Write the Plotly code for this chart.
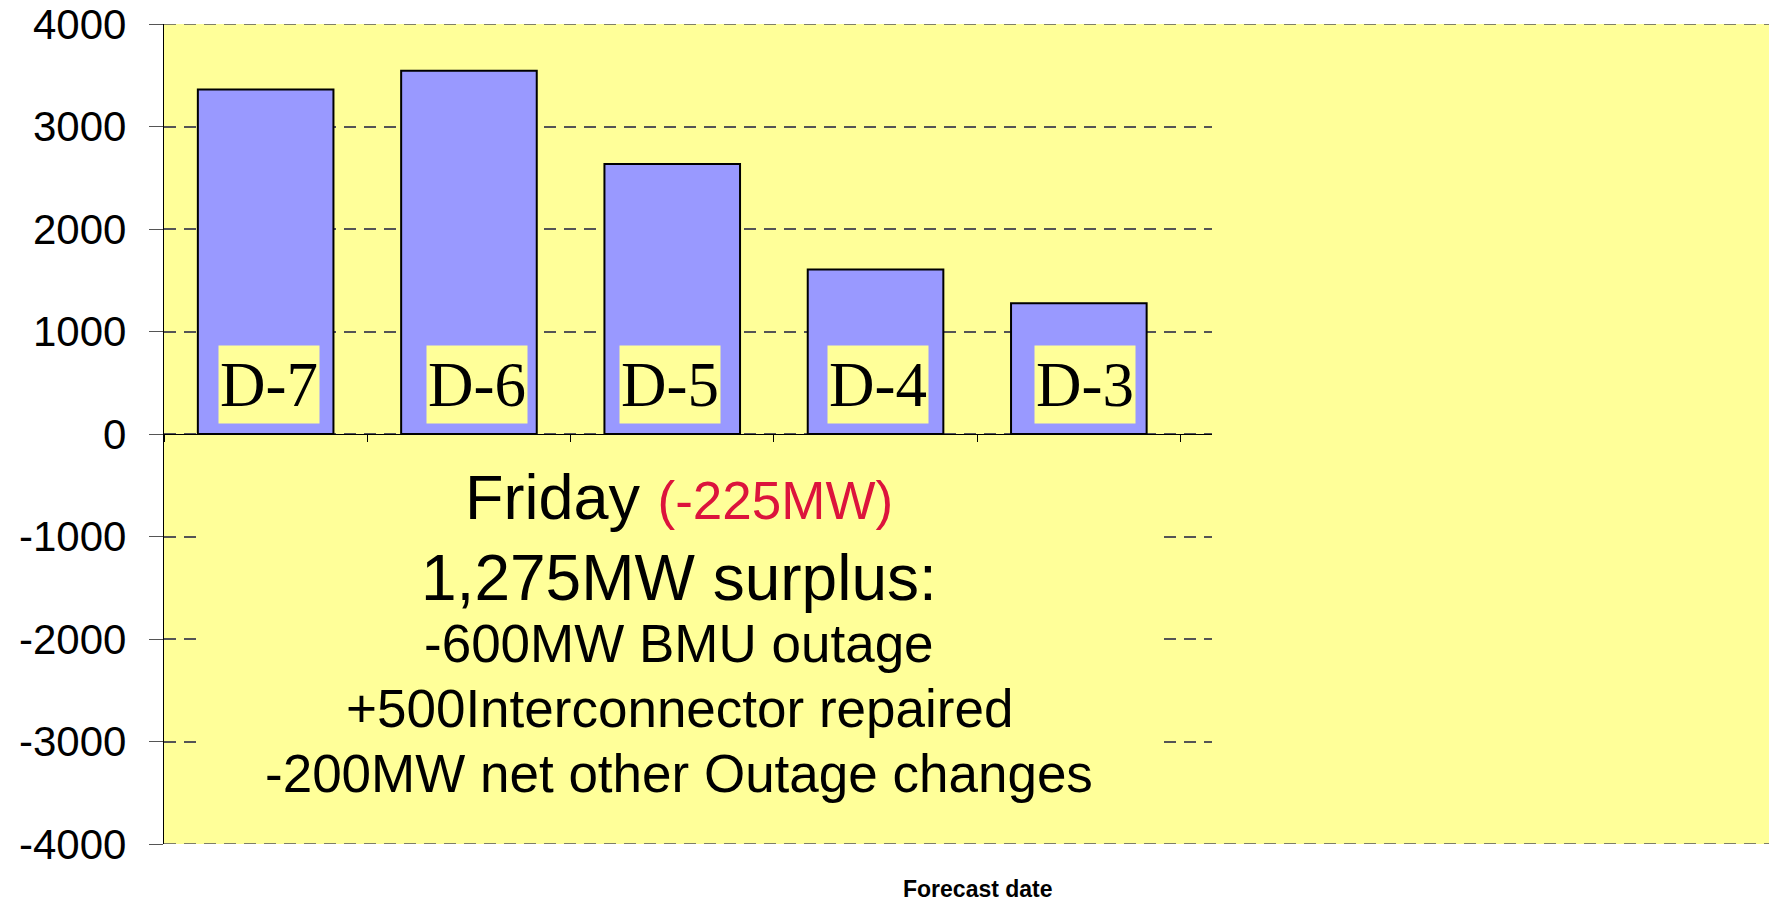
import plotly.graph_objects as go

categories = ["D-7", "D-6", "D-5", "D-4", "D-3"]
values = [3360, 3545, 2635, 1605, 1275]
y_ticks = [-4000, -3000, -2000, -1000, 0, 1000, 2000, 3000, 4000]
label_shift = [3, 8, -2, 2, 6]

note_head = "Friday"
note_change = "(-225MW)"
note_total = "1,275MW surplus:"
note_items = ["-600MW BMU outage", "+500Interconnector repaired", "-200MW net other Outage changes"]
x_title = "Forecast date"

YELLOW = "#FFFF99"
BAR = "#9999FF"
GRID = "#555555"

W, H = 1777, 904
OFF = 8  # page body margin of the html page
# plot area in page pixels: x 164..1212, y 24..844
PL, PR, PT, PB = 164, 1212, 24, 844
L, T = PL - OFF, PT - OFF
R = W - (PR - OFF)
B = H - (PB - OFF)
plot_w = PR - PL
plot_h = PB - PT
x_right_ext = (W + OFF - PL) / plot_w

def px_x(px):
    return (px - PL) / plot_w

def px_y(py):
    return (PB - py) / plot_h

fig = go.Figure()
fig.add_trace(go.Bar(
    x=categories, y=values, width=0.667,
    marker=dict(color=BAR, line=dict(color="black", width=2)),
    hoverinfo="x+y",
))

shapes = [
    dict(type="rect", xref="paper", yref="paper", x0=1, x1=x_right_ext, y0=0, y1=1,
         fillcolor=YELLOW, line=dict(width=0), layer="below"),
    dict(type="rect", xref="paper", yref="paper",
         x0=px_x(203), x1=px_x(1163), y0=px_y(826), y1=px_y(446),
         fillcolor=YELLOW, line=dict(width=0), layer="above"),
]
for yv in (y_ticks[0], y_ticks[-1]):
    shapes.append(dict(type="line", xref="paper", yref="y", x0=0, x1=x_right_ext, y0=yv, y1=yv,
                       line=dict(color=GRID, width=1.5, dash="12px,8px"), layer="above"))

annotations = []
for i, c in enumerate(categories):
    annotations.append(dict(
        x=c, y=483, xref="x", yref="y", text=c, showarrow=False,
        xanchor="center", yanchor="middle",
        width=100, height=77, bgcolor=YELLOW, borderpad=0, xshift=label_shift[i],
        font=dict(family="Liberation Serif", size=63, color="black"),
    ))

cx = px_x(679)

annotations.append(dict(
    x=cx, xref="paper", y=px_y(497), yref="paper", showarrow=False,
    xanchor="center", yanchor="middle",
    text=note_head + " <span style='color:#DC143C;font-size:53px'>" + note_change + "</span>",
    font=dict(family="Liberation Sans", size=63, color="black"),
))
annotations.append(dict(
    x=cx, xref="paper", y=px_y(578), yref="paper", showarrow=False,
    xanchor="center", yanchor="middle", text=note_total,
    font=dict(family="Liberation Sans", size=64, color="black"),
))
for k, t in enumerate(note_items):
    annotations.append(dict(
        x=cx, xref="paper", y=px_y(643 + 65 * k), yref="paper", showarrow=False, text=t,
        xanchor="center", yanchor="middle",
        font=dict(family="Liberation Sans", size=53, color="black"),
    ))

annotations.append(dict(
    x=px_x(977.7), xref="paper", y=px_y(889), yref="paper",
    xanchor="center", yanchor="middle",
    showarrow=False, text="<b>" + x_title + "</b>",
    font=dict(family="Liberation Sans", size=23, color="black"),
))

fig.update_layout(
    width=W, height=H, autosize=False,
    margin=dict(l=L, r=R, t=T, b=B, pad=0, autoexpand=False),
    paper_bgcolor="white", plot_bgcolor=YELLOW,
    showlegend=False, bargap=0.333,
    shapes=shapes, annotations=annotations,
    xaxis=dict(
        type="category", range=[-0.5, 4.655], showticklabels=False,
        tickson="boundaries", ticks="outside", ticklen=7, tickcolor="black", tickwidth=1,
        showline=True, linecolor="black", linewidth=1.3, showgrid=False,
        anchor="free", position=0.5, zeroline=False, automargin=False,
    ),
    yaxis=dict(
        range=[-4000, 4000], tickvals=y_ticks, ticktext=[str(v) for v in y_ticks],
        ticks="outside", ticklen=14, tickcolor=GRID, tickwidth=1.3,
        showline=True, linecolor="black", linewidth=1.3,
        showgrid=True, gridcolor=GRID, gridwidth=1.5, griddash="12px,8px",
        zeroline=False, ticklabelstandoff=14, automargin=False,
        ticklabeloverflow="allow",
        tickfont=dict(family="Liberation Sans", size=42, color="black"),
    ),
)

fig.write_html("out.html")
